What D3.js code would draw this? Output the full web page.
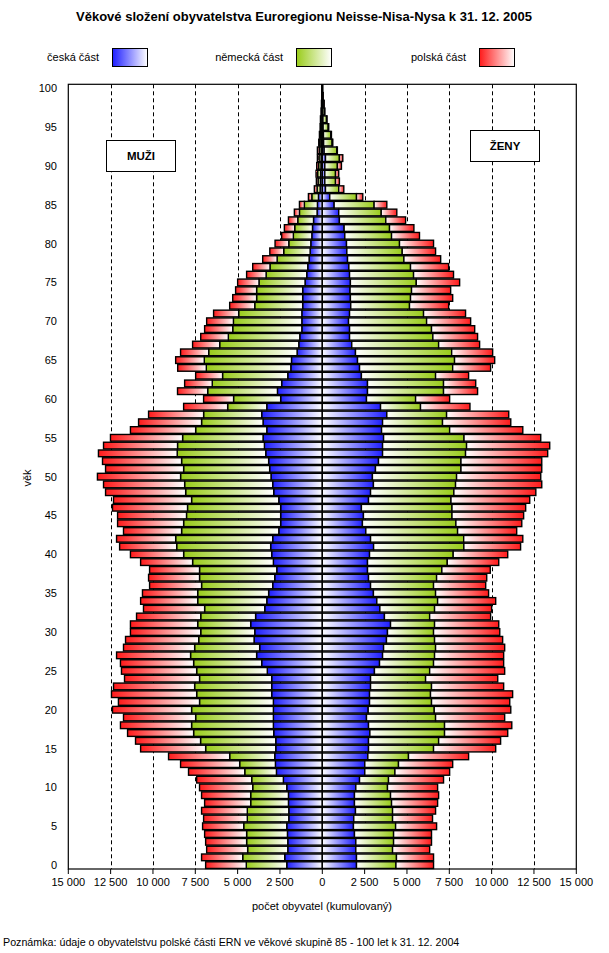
<!DOCTYPE html>
<html><head><meta charset="utf-8">
<script src="https://cdn.jsdelivr.net/npm/d3@7"></script>
<style>body{margin:0;background:#fff}svg{display:block}text{font-family:"Liberation Sans",Arial,sans-serif;fill:#000}</style>
</head><body><svg id="c" width="609" height="953"></svg>
<script>
// ---- data ----
const ages = [0,1,2,3,4,5,6,7,8,9,10,11,12,13,14,15,16,17,18,19,20,21,22,23,24,25,26,27,28,29,30,31,32,33,34,35,36,37,38,39,40,41,42,43,44,45,46,47,48,49,50,51,52,53,54,55,56,57,58,59,60,61,62,63,64,65,66,67,68,69,70,71,72,73,74,75,76,77,78,79,80,81,82,83,84,85,86,87,88,89,90,91,92,93,94,95,96,97,98,99,100];
const seriesNames = ["česká část", "německá část", "polská část"];
const seriesColors = ["#1e1eff", "#99cc1a", "#ff1a1a"];

const menCZ = [2100,2220,2040,2040,2060,2100,1980,1980,2000,2000,2100,2300,2710,2770,2810,2750,2750,2870,2890,2890,2890,2890,2990,2990,2990,3250,3580,3880,3700,4030,3990,4230,3940,3400,3280,3170,2930,2810,2690,2890,2990,3050,2930,2570,2460,2460,2460,2570,2870,2930,3030,3110,3170,3340,3420,3500,3280,3500,3580,3280,2460,2650,2400,2040,1860,1820,1490,1390,1330,1210,1210,1210,1160,1160,1160,1020,920,860,780,720,680,620,580,520,310,290,230,130,110,100,80,70,70,50,40,30,20,15,10,10,5];
const menDE = [2390,2480,2370,2430,2410,2540,2450,2450,2230,2230,2010,1870,1870,2110,2660,4140,4440,4730,4830,4590,4830,4360,4430,4550,4260,4170,4020,3900,3840,3270,3190,3130,3240,3550,4080,4190,4200,4440,4560,4770,5200,5550,5730,5740,5730,5560,5500,5150,5200,5200,5340,5080,5140,5230,5130,4750,4200,3630,3430,2310,2780,4120,4100,3850,4990,5150,5220,4670,4220,4080,4040,3730,2830,2720,2720,2720,2400,2230,1890,1560,1300,1090,1050,930,1040,770,390,180,140,180,140,130,110,90,70,60,50,35,20,10,5];
const menPL = [2400,2430,2420,2420,2480,2430,2580,2700,2720,2900,3140,3250,3320,3490,3610,3840,3840,3900,4200,4260,4670,4790,5030,4790,4430,4440,4320,4370,4200,4320,4150,3970,3790,3610,3370,3260,3070,3010,2950,3070,3140,3370,3490,3430,3900,4070,4430,4610,4730,4790,4910,4610,4670,4650,4370,4260,3850,3720,3250,2600,1770,1780,1630,1590,1690,1690,1660,1600,1630,1660,1580,1480,1480,1410,1240,1260,1150,1020,850,820,810,690,610,550,300,290,200,160,100,90,110,90,110,70,60,40,40,20,20,10,10];

const womenCZ = [2020,2020,1980,1980,1900,1840,1860,1960,1900,1900,1980,2200,2510,2510,2690,2730,2730,2810,2730,2610,2710,2790,2790,2850,2850,3080,3380,3560,3620,3790,3850,4030,3670,3400,3220,3020,2850,2730,2670,2670,2790,3030,2850,2570,2370,2430,2310,2730,2850,3020,2960,3140,3320,3560,3560,3620,3500,3560,3810,3440,2610,2670,2670,2310,2200,2080,1960,1740,1610,1610,1550,1610,1680,1660,1640,1660,1610,1570,1490,1450,1430,1330,1290,1010,970,700,440,190,150,150,150,190,110,80,70,50,40,30,20,10,5];
const womenDE = [2330,2360,2170,2230,2310,2490,2290,2190,2190,2130,1870,1710,1780,1990,2400,3840,4140,4410,4490,4080,3900,3660,3600,3600,3250,3260,3190,3070,3070,2840,2720,2600,2670,3230,3590,3670,3720,4020,4390,4710,4940,5330,5500,5420,5520,5230,5350,4870,4920,4850,4970,5050,4870,4900,4960,4750,4020,3540,3530,2360,2900,4490,4490,4380,5500,5730,5680,5130,4920,4840,4610,4370,3470,3550,3630,3890,3780,3640,3330,3270,3130,2760,2680,2740,2510,2360,1580,780,630,630,740,820,740,500,430,300,210,100,70,30,10];
const womenPL = [2220,2190,2190,2240,2240,2420,2360,2540,2720,2840,2960,3250,3230,3200,3550,3670,3660,3730,3970,4080,4520,4620,4850,4260,4260,4430,4140,4080,4080,4020,3910,3790,3600,3370,3430,3130,3080,2960,2860,3040,3220,3350,3490,3490,3890,4230,4350,4650,4840,5090,4970,4770,4770,4850,4910,4530,4320,4030,3670,2920,2010,2010,1900,1950,2240,2370,2420,2420,2640,2550,2600,2480,2310,2490,2310,2560,2360,2250,2170,1970,2010,1650,1440,1170,920,750,370,300,230,190,240,200,40,40,40,30,30,20,20,10,5];

const xTicks = [-15000,-12500,-10000,-7500,-5000,-2500,0,2500,5000,7500,10000,12500,15000];
const yTickLabels = [0,5,10,15,20,25,30,35,40,45,50,55,60,65,70,75,80,85,90,95,100];

// ---- drawing ----
const svg = d3.select("#c");
const X0 = 68.3, X1 = 576.3, Y0 = 869, Y1 = 84.3;
const x = d3.scaleLinear().domain([-15000, 15000]).range([X0, X1]);
const y = d3.scaleBand().domain(ages).range([Y0, Y1]).paddingInner(0.14).paddingOuter(0.07);
const fmt = d3.formatLocale({decimal: ",", thousands: "\u00a0", grouping: [3], currency: ["", ""]}).format(",");

svg.append("rect").attr("width", 609).attr("height", 953).attr("fill", "#fff");

// gradients
const defs = svg.append("defs");
seriesColors.forEach((c, i) => {
  const gl = defs.append("linearGradient").attr("id", "gL" + i).attr("x1", 0).attr("x2", 1).attr("y1", 0).attr("y2", 0);
  gl.append("stop").attr("offset", 0).attr("stop-color", c);
  gl.append("stop").attr("offset", 1).attr("stop-color", "#fff");
  const gr = defs.append("linearGradient").attr("id", "gR" + i).attr("x1", 0).attr("x2", 1).attr("y1", 0).attr("y2", 0);
  gr.append("stop").attr("offset", 0).attr("stop-color", "#fff");
  gr.append("stop").attr("offset", 1).attr("stop-color", c);
});

// title
svg.append("text").attr("x", 304).attr("y", 21).attr("text-anchor", "middle")
  .attr("font-size", 13).attr("font-weight", "bold")
  .text("Věkové složení obyvatelstva Euroregionu Neisse-Nisa-Nysa k 31. 12. 2005");

// legend
const legendTextX = [99, 283, 466];
const legendBoxX = [112, 296, 479];
seriesNames.forEach((n, i) => {
  svg.append("text").attr("x", legendTextX[i]).attr("y", 61).attr("text-anchor", "end")
    .attr("font-size", 11).text(n);
  svg.append("rect").attr("x", legendBoxX[i] + 0.5).attr("y", 48.5).attr("width", 35).attr("height", 18)
    .attr("fill", "url(#gL" + i + ")").attr("stroke", "#000").attr("stroke-width", 1);
});

// gridlines
svg.append("g").selectAll("line").data(xTicks.filter(t => Math.abs(t) !== 15000 && t !== 0)).join("line")
  .attr("x1", d => Math.round(x(d)) + 0.5).attr("x2", d => Math.round(x(d)) + 0.5)
  .attr("y1", Y1).attr("y2", Y0)
  .attr("stroke", "#000").attr("stroke-width", 1).attr("stroke-dasharray", "4,3");

// center line
svg.append("line").attr("x1", x(0)).attr("x2", x(0)).attr("y1", Y1).attr("y2", Y0)
  .attr("stroke", "#000").attr("stroke-width", 1.3);

// labels boxes
svg.append("rect").attr("x", 106.5).attr("y", 140.5).attr("width", 69).attr("height", 31)
  .attr("fill", "#fff").attr("stroke", "#000");
svg.append("text").attr("x", 141).attr("y", 160).attr("text-anchor", "middle")
  .attr("font-size", 11.5).attr("font-weight", "bold").text("MUŽI");
svg.append("rect").attr("x", 470.5).attr("y", 130.5).attr("width", 69).attr("height", 31)
  .attr("fill", "#fff").attr("stroke", "#000");
svg.append("text").attr("x", 505).attr("y", 150).attr("text-anchor", "middle")
  .attr("font-size", 11.5).attr("font-weight", "bold").text("ŽENY");

// bars
const men = [menCZ, menDE, menPL];
const women = [womenCZ, womenDE, womenPL];
const segs = [];
ages.forEach((a, k) => {
  let cm = 0, cw = 0;
  for (let i = 0; i < 3; i++) {
    segs.push({age: a, side: "m", s: i, from: cm, to: cm + men[i][k]});
    cm += men[i][k];
    segs.push({age: a, side: "w", s: i, from: cw, to: cw + women[i][k]});
    cw += women[i][k];
  }
});
svg.append("g").selectAll("rect").data(segs).join("rect")
  .attr("x", d => d.side === "m" ? x(-d.to) : x(d.from))
  .attr("width", d => d.side === "m" ? x(-d.from) - x(-d.to) : x(d.to) - x(d.from))
  .attr("y", d => y(d.age))
  .attr("height", y.bandwidth())
  .attr("fill", d => `url(#${d.side === "m" ? "gL" : "gR"}${d.s})`)
  .attr("stroke", "#000").attr("stroke-width", 1.4);

// frame
svg.append("rect").attr("x", X0).attr("y", Y1).attr("width", X1 - X0).attr("height", Y0 - Y1)
  .attr("fill", "none").attr("stroke", "#000").attr("stroke-width", 1.2);

// x axis ticks & labels
const xa = svg.append("g");
xa.selectAll("line").data(xTicks).join("line")
  .attr("x1", d => x(d)).attr("x2", d => x(d)).attr("y1", Y0).attr("y2", Y0 + 5)
  .attr("stroke", "#000");
xa.selectAll("text").data(xTicks).join("text")
  .attr("x", d => x(d)).attr("y", 886).attr("text-anchor", "middle").attr("font-size", 11)
  .text(d => fmt(Math.abs(d)));

// y labels
svg.append("g").selectAll("text").data(yTickLabels).join("text")
  .attr("x", 57).attr("y", d => y(d) + y.bandwidth() / 2 + 4).attr("text-anchor", "end")
  .attr("font-size", 11).text(d => d);

svg.append("text").attr("transform", "translate(31,478) rotate(-90)").attr("text-anchor", "middle")
  .attr("font-size", 11).text("věk");

svg.append("text").attr("x", 322).attr("y", 910).attr("text-anchor", "middle").attr("font-size", 11)
  .text("počet obyvatel (kumulovaný)");

svg.append("text").attr("x", 3).attr("y", 946).attr("font-size", 10.7)
  .text("Poznámka: údaje o obyvatelstvu polské části ERN ve věkové skupině 85 - 100 let k 31. 12. 2004");
</script></body></html>
